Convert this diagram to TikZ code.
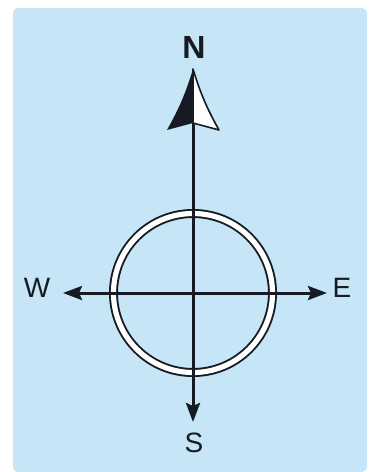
\documentclass[tikz,border=0pt]{standalone}
\usepackage{fontspec}
\setmainfont{Liberation Sans}
\usetikzlibrary{positioning,arrows.meta}
\definecolor{panel}{RGB}{198,229,246}
\definecolor{ink}{RGB}{22,26,34}
\begin{document}
\begin{tikzpicture}[x=1pt,y=-1pt,
  dir/.style={font=\fontsize{28}{30}\selectfont,text=ink,inner sep=0pt},
  axis/.style={ink,line width=3pt,-{Stealth[length=19pt,width=14pt,inset=3pt]}}]
\useasboundingbox (0,0) rectangle (369,472);
\fill[panel,rounded corners=5pt] (13,8) rectangle (367,472);
% points
\coordinate (o) at (193,293);
\coordinate (wtip) at (63,293);
\coordinate (etip) at (327,293);
\coordinate (stip) at (193,422);
\coordinate (ntip) at (193,69);
\coordinate (nbase) at (193,123);
% labels
\node[dir,font=\fontsize{32}{34}\selectfont\bfseries] (nl) at (194,47) {N};
\node[dir] (wl) at (37,288) {W};
\node[dir] (el) at (342,288) {E};
\node[dir] (sl) at (194,443) {S};
% ring
\draw[ink,line width=9pt] (o) circle (79.5pt);
\draw[white,line width=5.2pt] (o) circle (79.5pt);
% axes
\draw[axis] (o) -- (wtip);
\draw[axis] (o) -- (etip);
\draw[axis] (nbase) -- (stip);
% north head
\fill[ink] (ntip) to[bend left=6] (167,130) -- (nbase) -- cycle;
\filldraw[fill=white,draw=ink,line width=1.6pt,line join=round] (ntip) to[bend right=6] (219,130) -- (nbase) -- cycle;
\end{tikzpicture}
\end{document}
